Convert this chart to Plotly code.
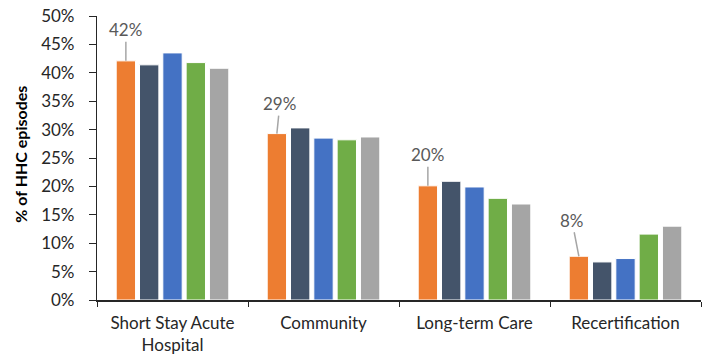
import plotly.graph_objects as go

# Share of home health care episodes by admission source, five periods per source
categories = ["Short Stay Acute<br>Hospital", "Community", "Long-term Care", "Recertification"]
series_names = ["Period 1", "Period 2", "Period 3", "Period 4", "Period 5"]
series_values = [
    [42.1, 29.3, 20.1, 7.7],
    [41.4, 30.3, 20.9, 6.7],
    [43.5, 28.5, 19.9, 7.3],
    [41.8, 28.2, 17.9, 11.6],
    [40.8, 28.7, 16.9, 13.0],
]
series_colors = ["#ED7D31", "#44546A", "#4472C4", "#70AD47", "#A5A5A5"]
y_ticks = [0, 5, 10, 15, 20, 25, 30, 35, 40, 45, 50]
y_tick_labels = [f"{v}%" for v in y_ticks]

# Callout label offsets (pixels) for the first series
label_offsets = [(0, -31), (3, -30), (0, -31), (-7, -36)]

bargap = 0.228
n_series = len(series_values)
FONT = "Lato, sans-serif"

fig = go.Figure()
for name, vals, color in zip(series_names, series_values, series_colors):
    fig.add_trace(go.Bar(
        name=name, x=categories, y=vals,
        marker=dict(color=color, line=dict(color="white", width=1)),
        hovertemplate="%{x}: %{y:.1f}%<extra>" + name + "</extra>",
    ))

# Labels on the first series bars, with leader lines
step = (1 - bargap) / n_series
first_offset = -(n_series - 1) / 2 * step
for i, (v, (ax, ay)) in enumerate(zip(series_values[0], label_offsets)):
    fig.add_annotation(
        x=i + first_offset, y=v, xref="x", yref="y",
        text=f"{round(v)}%", showarrow=True, arrowhead=0, arrowwidth=1.5,
        arrowcolor="#A6A6A6", ax=ax, ay=ay, standoff=0,
        font=dict(family=FONT, size=17, color="#595959"),
    )

# Vertical axis title
fig.add_annotation(
    text="<b>% of HHC episodes</b>", textangle=-90,
    xref="paper", yref="paper", x=-0.126, y=0.515,
    xanchor="center", yanchor="middle", showarrow=False,
    font=dict(family=FONT, size=16, color="#000000"),
)

fig.update_layout(
    width=710, height=358,
    margin=dict(l=97, r=9, t=16, b=58, autoexpand=False),
    paper_bgcolor="white", plot_bgcolor="white",
    barmode="group", bargap=bargap, bargroupgap=0.17,
    showlegend=False,
    font=dict(family=FONT, size=17, color="#262626"),
)
fig.update_yaxes(
    range=[0, 50], tickvals=y_ticks, ticktext=y_tick_labels,
    showgrid=False, zeroline=False, automargin=False,
    showline=True, linecolor="#262626", linewidth=1.2,
    ticks="outside", ticklen=7, tickcolor="#262626", tickwidth=1,
    ticklabelstandoff=11,
)
fig.update_xaxes(
    showgrid=False, showline=True, linecolor="#262626", linewidth=1.5,
    ticks="outside", tickson="boundaries", ticklen=5, tickcolor="#262626",
    ticklabelstandoff=7, automargin=False,
)

fig.write_html("out.html")
